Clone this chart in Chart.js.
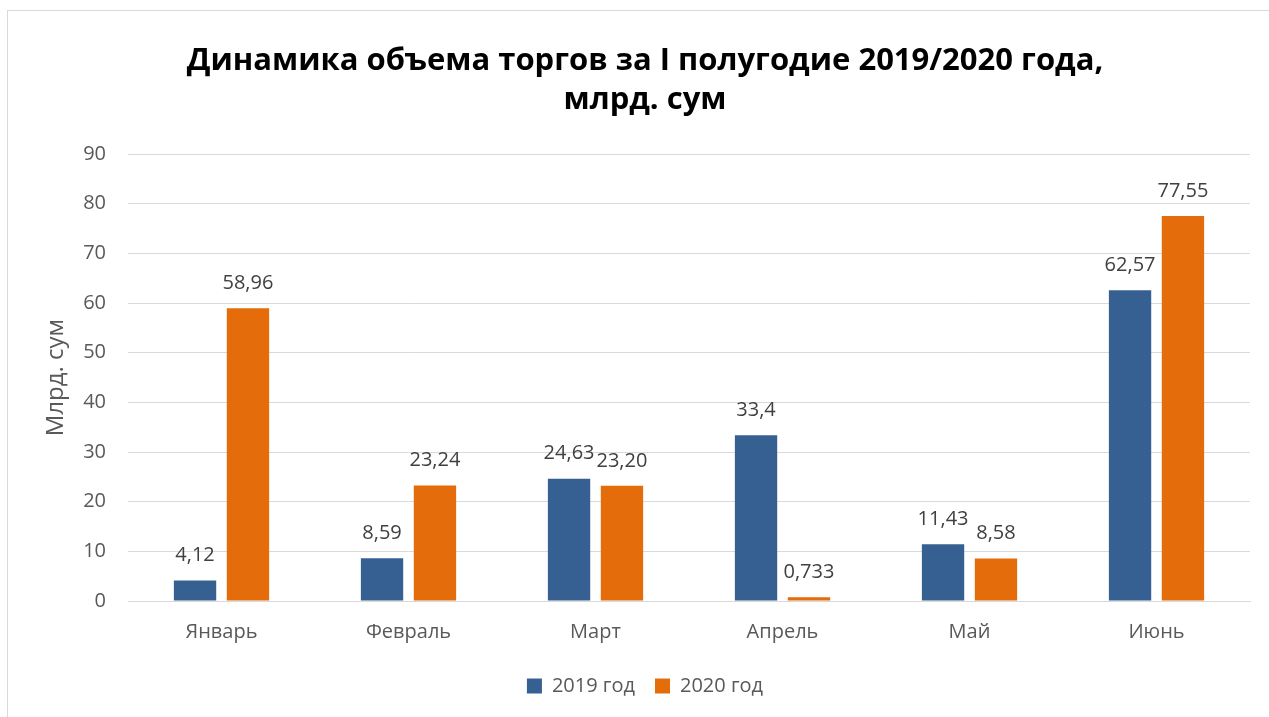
<!DOCTYPE html>
<html>
<head>
<meta charset="utf-8">
<script src="https://cdn.jsdelivr.net/npm/chart.js@4"></script>
<style>
html,body{margin:0;padding:0;background:#fff;overflow:hidden;}
#wrap{position:absolute;left:0;top:0;width:1269px;height:717px;}
#frame{position:absolute;left:7px;top:10px;width:1300px;height:750px;border:1px solid #d9d9d9;box-sizing:border-box;}
canvas{position:absolute;left:0;top:0;}
</style>
</head>
<body>
<div id="wrap">
<div id="frame"></div>
<canvas id="c" width="1269" height="717"></canvas>
</div>
<script>
const categories = ["Январь","Февраль","Март","Апрель","Май","Июнь"];
const values2019 = [4.12, 8.59, 24.63, 33.4, 11.43, 62.57];
const values2020 = [58.96, 23.24, 23.20, 0.733, 8.58, 77.55];
const labels2019 = ["4,12","8,59","24,63","33,4","11,43","62,57"];
const labels2020 = ["58,96","23,24","23,20","0,733","8,58","77,55"];
const seriesNames = ["2019 год","2020 год"];
const yTicks = [0,10,20,30,40,50,60,70,80,90];
const titleLines = ["Динамика объема торгов за I полугодие 2019/2020 года,","млрд. сум"];
const yTitle = "Млрд. сум";

const FONT = "'Open Sans', 'DejaVu Sans', sans-serif";

const valueLabels = {
  id: 'valueLabels',
  afterDatasetsDraw(chart) {
    const ctx = chart.ctx;
    const sets = [labels2019, labels2020];
    ctx.save();
    ctx.font = "20px " + FONT;
    ctx.fillStyle = "#404040";
    ctx.textAlign = "center";
    ctx.textBaseline = "middle";
    chart.data.datasets.forEach((ds, i) => {
      const meta = chart.getDatasetMeta(i);
      meta.data.forEach((bar, j) => {
        ctx.fillText(sets[i][j], bar.x, bar.y - 25);
      });
    });
    ctx.restore();
  }
};

new Chart(document.getElementById('c'), {
  type: 'bar',
  data: {
    labels: categories,
    datasets: [
      {label: seriesNames[0], data: values2019, backgroundColor: '#376092', borderWidth: 0},
      {label: seriesNames[1], data: values2020, backgroundColor: '#e46c0a', borderWidth: 0}
    ]
  },
  options: {
    responsive: false,
    animation: false,
    devicePixelRatio: 1,
    categoryPercentage: 0.566,
    barPercentage: 0.8,
    layout: {padding: {left: 40, right: 19, top: 0, bottom: 11}},
    plugins: {
      tooltip: {enabled: false},
      title: {
        display: true,
        text: titleLines,
        color: '#000000',
        font: {family: FONT, size: 31, weight: 'bold', lineHeight: 1.26},
        padding: {top: 42, bottom: 34}
      },
      legend: {
        position: 'bottom',
        labels: {
          color: '#595959',
          font: {family: FONT, size: 20},
          boxWidth: 15,
          boxHeight: 15,
          padding: 20
        }
      }
    },
    scales: {
      x: {
        afterFit(scale) { scale.height = 55; },
        grid: {display: false, drawTicks: false},
        border: {display: true, color: '#d9d9d9', width: 1},
        ticks: {color: '#595959', font: {family: FONT, size: 20}, padding: 19}
      },
      y: {
        min: 0, max: 90,
        afterBuildTicks(scale) { scale.ticks = yTicks.map(v => ({value: v})); },
        afterFit(scale) { scale.width = 88; },
        grid: {color: '#d9d9d9', lineWidth: 1, drawTicks: false},
        border: {display: false},
        ticks: {color: '#595959', font: {family: FONT, size: 20}, padding: 22},
        title: {display: true, text: yTitle, color: '#595959', font: {family: FONT, size: 24}, padding: {top: 2, bottom: 0}}
      }
    }
  },
  plugins: [valueLabels]
});
</script>
</body>
</html>
